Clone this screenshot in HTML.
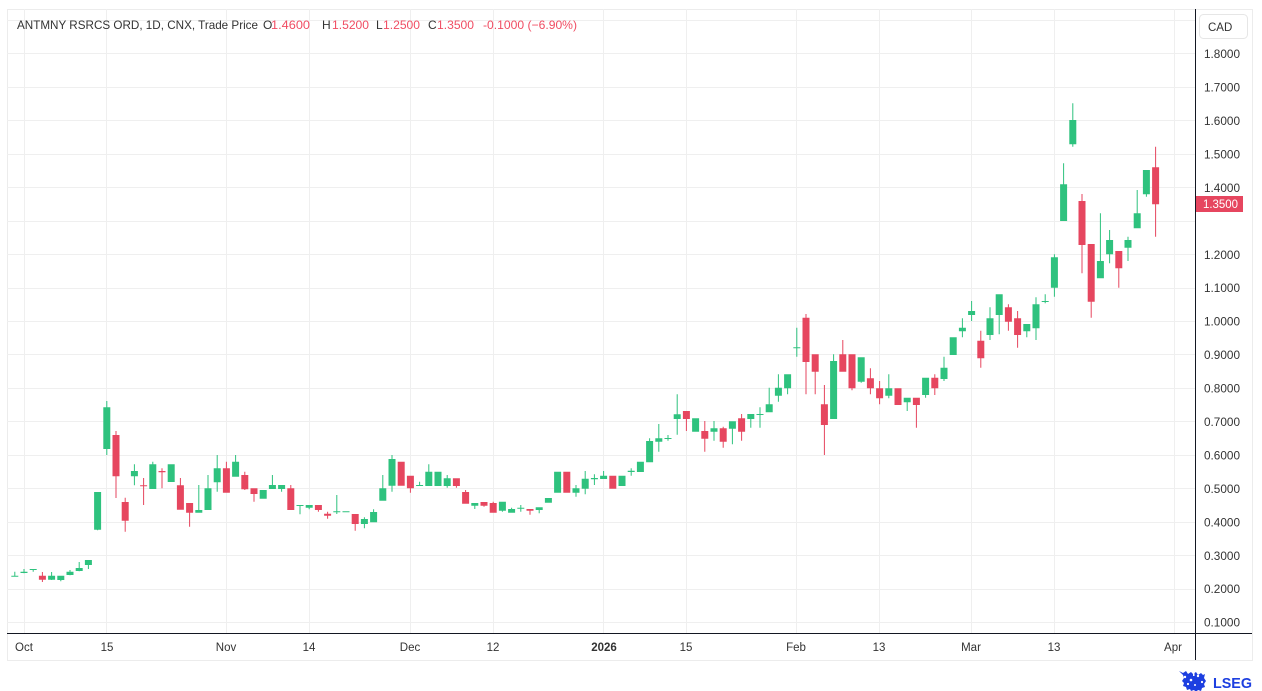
<!DOCTYPE html>
<html><head><meta charset="utf-8"><style>
html,body{margin:0;padding:0;background:#fff;}
body{width:1262px;height:691px;overflow:hidden;}
svg{display:block;}
text{font-family:"Liberation Sans",Arial,sans-serif;}
</style></head><body>
<svg width="1262" height="691" viewBox="0 0 1262 691" xmlns="http://www.w3.org/2000/svg">
<rect x="0" y="0" width="1262" height="691" fill="#fff"/>
<!-- frame -->
<g stroke="#ececec" stroke-width="1" fill="none" shape-rendering="crispEdges">
<path d="M7.5 9.5H1252.5V660.5H7.5Z"/>
</g>
<!-- horizontal grid -->
<g stroke="#efefef" stroke-width="1" shape-rendering="crispEdges">
<path d="M7 20.5H1195M7 53.5H1195M7 87.5H1195M7 120.5H1195M7 154.5H1195M7 187.5H1195M7 221.5H1195M7 254.5H1195M7 288.5H1195M7 321.5H1195M7 354.5H1195M7 388.5H1195M7 421.5H1195M7 455.5H1195M7 488.5H1195M7 522.5H1195M7 555.5H1195M7 589.5H1195M7 622.5H1195"/>
<path d="M24.5 9V633M106.5 9V633M226.5 9V633M309.5 9V633M410.5 9V633M493.5 9V633M603.5 9V633M686.5 9V633M796.5 9V633M879.5 9V633M971.5 9V633M1054.5 9V633M1174.5 9V633"/>
</g>
<!-- green candles -->
<path fill="#2ec27e" d="M14.3 571.7h1V576.7h-1zM11.3 575.7h7V576.7h-7z
M23.5 569h1V573.3h-1zM20.5 571.7h7V573h-7z
M32.7 569h1V571.7h-1zM29.7 569h7V570h-7z
M51.1 572h1V580h-1zM48.1 575.7h7V579.7h-7z
M60.3 575.7h1V581.3h-1zM57.3 575.7h7V580h-7z
M69.5 570h1V575.3h-1zM66.5 571.7h7V575h-7z
M78.7 562h1V571.3h-1zM75.7 568h7V571h-7z
M87.9 560h1V569h-1zM84.9 560h7V565h-7z
M97.1 492h1V530.3h-1zM94.1 492h7V529.7h-7z
M106.3 401h1V455h-1zM103.3 407.3h7V449h-7z
M133.9 464.3h1V485.3h-1zM130.9 471h7V476.3h-7z
M152.3 461.7h1V489h-1zM149.3 464.3h7V489h-7z
M167.7 464.3h7V482h-7z
M198.3 485h1V512.7h-1zM195.3 510h7V512.7h-7z
M207.5 475h1V510h-1zM204.5 488.3h7V510h-7z
M216.7 455h1V491.7h-1zM213.7 468.3h7V482.3h-7z
M235.1 455h1V476.7h-1zM232.1 461.7h7V476.7h-7z
M259.7 490h7V498.7h-7z
M271.9 475h1V489h-1zM268.9 485h7V489h-7z
M281.1 485h1V491.7h-1zM278.1 485h7V489h-7z
M299.5 505h1V514.3h-1zM296.5 505h7V506h-7z
M308.7 505h1V509.3h-1zM305.7 505h7V507.7h-7z
M336.3 495h1V514h-1zM333.3 511.3h7V512.3h-7z
M342.5 511.3h7V512.3h-7z
M363.9 517.3h1V528.3h-1zM360.9 519h7V524h-7z
M373.1 509.3h1V522.3h-1zM370.1 512h7V522.3h-7z
M382.3 475h1V500.7h-1zM379.3 488.3h7V500.7h-7z
M391.5 455h1V491.7h-1zM388.5 459h7V485.7h-7z
M419.1 481.7h1V486h-1zM416.1 485h7V486h-7z
M428.3 464.3h1V486h-1zM425.3 471.7h7V486h-7z
M434.5 471.7h7V486h-7z
M446.7 475h1V487.7h-1zM443.7 478.3h7V486h-7z
M474.3 503h1V509h-1zM471.3 503h7V505.7h-7z
M501.9 501.7h1V511.7h-1zM498.9 501.7h7V510.7h-7z
M511.1 507.7h1V512.7h-1zM508.1 509h7V512.7h-7z
M520.3 505h1V511.7h-1zM517.3 507.7h7V508.7h-7z
M538.7 507.3h1V513.3h-1zM535.7 507.3h7V510h-7z
M544.9 498h7V502.7h-7z
M554.1 471.7h7V492.7h-7z
M575.5 485h1V496.7h-1zM572.5 488.3h7V492.7h-7z
M584.7 471h1V494.3h-1zM581.7 478.7h7V488.7h-7z
M593.9 474.3h1V485h-1zM590.9 478h7V479.3h-7z
M603.1 471h1V479h-1zM600.1 475.7h7V479h-7z
M618.5 475.7h7V486h-7z
M630.7 468.3h1V475.7h-1zM627.7 470.7h7V472h-7z
M636.9 461.7h7V472h-7z
M649.1 438.3h1V462.3h-1zM646.1 441h7V462.3h-7z
M658.3 424h1V451.7h-1zM655.3 438.3h7V441.7h-7z
M667.5 435h1V440.7h-1zM664.5 438h7V439h-7z
M676.7 394.3h1V434.7h-1zM673.7 414.3h7V419h-7z
M692.1 418.3h7V431.7h-7z
M713.5 421h1V440.7h-1zM710.5 428.3h7V431.7h-7z
M731.9 421.3h1V444.3h-1zM728.9 421.3h7V428.7h-7z
M750.3 414h1V427.7h-1zM747.3 414h7V419h-7z
M759.5 407.3h1V427.7h-1zM756.5 414h7V415h-7z
M768.7 387.7h1V412.3h-1zM765.7 404.3h7V412.3h-7z
M777.9 374.3h1V401.7h-1zM774.9 387.7h7V395.7h-7z
M787.1 374.3h1V394.3h-1zM784.1 374.3h7V388.3h-7z
M796.3 327.7h1V356.7h-1zM793.3 347.3h7V348.3h-7z
M833.1 354.3h1V419h-1zM830.1 361h7V419h-7z
M860.7 357.3h1V382.7h-1zM857.7 357.3h7V381.7h-7z
M888.3 374.3h1V398.3h-1zM885.3 388.3h7V395.7h-7z
M906.7 397.7h1V411h-1zM903.7 397.7h7V402.3h-7z
M925.1 377.7h1V397.7h-1zM922.1 377.7h7V395h-7z
M943.5 356.7h1V381h-1zM940.5 367.7h7V379h-7z
M949.7 337.3h7V355h-7z
M961.9 318.3h1V337.3h-1zM958.9 327.7h7V331.3h-7z
M971.1 301h1V321h-1zM968.1 311h7V315h-7z
M989.5 307.3h1V340h-1zM986.5 318.3h7V335h-7z
M998.7 294.3h1V334.3h-1zM995.7 294.3h7V315h-7z
M1026.3 324h1V337.3h-1zM1023.3 324h7V331.3h-7z
M1035.5 297.3h1V340h-1zM1032.5 304.3h7V328.3h-7z
M1044.7 294.3h1V303.3h-1zM1041.7 301h7V302h-7z
M1053.9 254.3h1V296.7h-1zM1050.9 257.3h7V287.7h-7z
M1063.1 163.3h1V221h-1zM1060.1 184.3h7V221h-7z
M1072.3 103.3h1V146.7h-1zM1069.3 120h7V144.3h-7z
M1099.9 213.3h1V278.3h-1zM1096.9 261h7V278.3h-7z
M1109.1 230h1V263.3h-1zM1106.1 240h7V254.3h-7z
M1127.5 236.7h1V261h-1zM1124.5 240h7V247.7h-7z
M1136.7 190h1V228.3h-1zM1133.7 213.3h7V228.3h-7z
M1145.9 170h1V196.7h-1zM1142.9 170h7V194.3h-7z"/>
<!-- red candles -->
<path fill="#e6465f" d="M41.9 572h1V582h-1zM38.9 575.7h7V579.7h-7z
M115.5 431h1V498h-1zM112.5 435h7V476.3h-7z
M124.7 497.7h1V531.7h-1zM121.7 502h7V520.7h-7z
M143.1 478h1V505h-1zM140.1 485.3h7V486.3h-7z
M161.5 468.3h1V488.3h-1zM158.5 471h7V472.3h-7z
M179.9 478h1V509.7h-1zM176.9 485.3h7V509.7h-7z
M189.1 503h1V526.7h-1zM186.1 503h7V512.7h-7z
M225.9 461.7h1V492.7h-1zM222.9 468.3h7V492.7h-7z
M244.3 471.7h1V490h-1zM241.3 475h7V489.3h-7z
M253.5 488.3h1V501.7h-1zM250.5 488.3h7V494h-7z
M290.3 485h1V510h-1zM287.3 488.3h7V510h-7z
M317.9 505h1V511.7h-1zM314.9 505h7V510h-7z
M327.1 511.7h1V518.7h-1zM324.1 513.7h7V515.7h-7z
M354.7 514h1V530.7h-1zM351.7 514h7V524h-7z
M397.7 461.7h7V485.7h-7z
M409.9 475.7h1V492.7h-1zM406.9 475.7h7V488.3h-7z
M455.9 478.3h1V487.7h-1zM452.9 478.3h7V486h-7z
M465.1 490h1V503.7h-1zM462.1 492h7V503.7h-7z
M483.5 502h1V506.7h-1zM480.5 502h7V505.7h-7z
M492.7 501.7h1V512.7h-1zM489.7 503h7V512.7h-7z
M529.5 509h1V514.7h-1zM526.5 509h7V510.7h-7z
M563.3 471.7h7V492.7h-7z
M609.3 475.7h7V488.7h-7z
M685.9 411h1V431h-1zM682.9 411h7V419h-7z
M704.3 421h1V451.7h-1zM701.3 431h7V438.7h-7z
M722.7 426.7h1V447.7h-1zM719.7 428.3h7V441.7h-7z
M741.1 414h1V440.7h-1zM738.1 418.3h7V431.7h-7z
M805.5 314h1V394.3h-1zM802.5 317.7h7V362h-7z
M814.7 354.3h1V394.3h-1zM811.7 354.3h7V371.7h-7z
M823.9 385h1V455h-1zM820.9 404.3h7V425h-7z
M842.3 340h1V371.7h-1zM839.3 354.3h7V371.7h-7z
M851.5 354.3h1V390.3h-1zM848.5 354.3h7V388.3h-7z
M869.9 368.3h1V394.3h-1zM866.9 378.3h7V388.3h-7z
M879.1 381h1V404.3h-1zM876.1 388.3h7V398.3h-7z
M894.5 388.3h7V405h-7z
M915.9 397.7h1V427.7h-1zM912.9 397.7h7V405h-7z
M934.3 374.3h1V395h-1zM931.3 377.7h7V388.3h-7z
M980.3 330.7h1V367.7h-1zM977.3 340.7h7V358.3h-7z
M1007.9 304.3h1V330.7h-1zM1004.9 307.3h7V321.7h-7z
M1017.1 311h1V347.7h-1zM1014.1 318.3h7V335h-7z
M1081.5 194h1V273.3h-1zM1078.5 201h7V245h-7z
M1090.7 244h1V317.7h-1zM1087.7 244h7V301.7h-7z
M1118.3 251h1V287.7h-1zM1115.3 251h7V268.3h-7z
M1155.1 146.7h1V236.7h-1zM1152.1 167.3h7V204.3h-7z"/>
<!-- axes lines -->
<g stroke="#131722" stroke-width="1" shape-rendering="crispEdges">
<path d="M7 633.5H1252"/>
<path d="M1195.5 9V660"/>
</g>
<!-- legend -->
<g font-size="12" fill="#333">
<text x="17" y="29" textLength="241" lengthAdjust="spacingAndGlyphs">ANTMNY RSRCS ORD, 1D, CNX, Trade Price</text>
<text x="263" y="29">O</text>
<text x="271" y="29" fill="#f04d63" textLength="39" lengthAdjust="spacingAndGlyphs">1.4600</text>
<text x="322" y="29">H</text>
<text x="332" y="29" fill="#f04d63" textLength="37" lengthAdjust="spacingAndGlyphs">1.5200</text>
<text x="376" y="29">L</text>
<text x="383" y="29" fill="#f04d63" textLength="37" lengthAdjust="spacingAndGlyphs">1.2500</text>
<text x="428" y="29">C</text>
<text x="437" y="29" fill="#f04d63" textLength="37" lengthAdjust="spacingAndGlyphs">1.3500</text>
<text x="483" y="29" fill="#f04d63" textLength="94" lengthAdjust="spacingAndGlyphs">-0.1000 (−6.90%)</text>
</g>
<!-- CAD box -->
<rect x="1199.5" y="14.5" width="48" height="24" rx="4" fill="#fff" stroke="#e6e6e6"/>
<text x="1208" y="31" font-size="11.5" fill="#333">CAD</text>
<!-- y labels -->
<g font-size="11.5" fill="#333">
<text x="1204" y="58" textLength="36" lengthAdjust="spacingAndGlyphs">1.8000</text>
<text x="1204" y="91.5" textLength="36" lengthAdjust="spacingAndGlyphs">1.7000</text>
<text x="1204" y="125" textLength="36" lengthAdjust="spacingAndGlyphs">1.6000</text>
<text x="1204" y="158.5" textLength="36" lengthAdjust="spacingAndGlyphs">1.5000</text>
<text x="1204" y="192" textLength="36" lengthAdjust="spacingAndGlyphs">1.4000</text>
<text x="1204" y="259" textLength="36" lengthAdjust="spacingAndGlyphs">1.2000</text>
<text x="1204" y="292" textLength="36" lengthAdjust="spacingAndGlyphs">1.1000</text>
<text x="1204" y="325.5" textLength="36" lengthAdjust="spacingAndGlyphs">1.0000</text>
<text x="1204" y="359" textLength="36" lengthAdjust="spacingAndGlyphs">0.9000</text>
<text x="1204" y="392.5" textLength="36" lengthAdjust="spacingAndGlyphs">0.8000</text>
<text x="1204" y="426" textLength="36" lengthAdjust="spacingAndGlyphs">0.7000</text>
<text x="1204" y="459.5" textLength="36" lengthAdjust="spacingAndGlyphs">0.6000</text>
<text x="1204" y="493" textLength="36" lengthAdjust="spacingAndGlyphs">0.5000</text>
<text x="1204" y="526.5" textLength="36" lengthAdjust="spacingAndGlyphs">0.4000</text>
<text x="1204" y="560" textLength="36" lengthAdjust="spacingAndGlyphs">0.3000</text>
<text x="1204" y="593" textLength="36" lengthAdjust="spacingAndGlyphs">0.2000</text>
<text x="1204" y="626.5" textLength="36" lengthAdjust="spacingAndGlyphs">0.1000</text>
</g>
<!-- current price tag -->
<rect x="1196" y="196" width="47" height="16" fill="#e6465f"/>
<text x="1203" y="208" font-size="11.5" fill="#fff" textLength="35" lengthAdjust="spacingAndGlyphs">1.3500</text>
<!-- x labels -->
<g font-size="11.5" fill="#333" text-anchor="middle">
<text x="24" y="651">Oct</text>
<text x="107" y="651">15</text>
<text x="226" y="651">Nov</text>
<text x="309" y="651">14</text>
<text x="410" y="651">Dec</text>
<text x="493" y="651">12</text>
<text x="604" y="651" font-weight="bold">2026</text>
<text x="686" y="651">15</text>
<text x="796" y="651">Feb</text>
<text x="879" y="651">13</text>
<text x="971" y="651">Mar</text>
<text x="1054" y="651">13</text>
<text x="1173" y="651">Apr</text>
</g>
<!-- LSEG logo -->
<g fill="#1d3fe0">
<path d="M1179 671l4 2 3-2 2 3 3-2 2 2 3-2 2 3 3-2 2 2 2-1-1 4 2 3-2 3 1 3-3 1-1 3-3-1-2 2-2-2-3 1-1-2-3 1-1-3-3-1 1-3-2-2 2-3-1-3z"/>
</g>
<g fill="#fff">
<circle cx="1185" cy="677" r="1.2"/><circle cx="1191" cy="680" r="1.3"/><circle cx="1198" cy="676" r="1.2"/>
<circle cx="1202" cy="682" r="1.1"/><circle cx="1188" cy="684" r="1.1"/><circle cx="1195" cy="685" r="1"/>
<rect x="1193" y="672" width="1.5" height="4"/>
</g>
<text x="1213" y="688" font-size="15" font-weight="bold" fill="#1d3fe0" textLength="39" lengthAdjust="spacingAndGlyphs">LSEG</text>
</svg>
</body></html>
